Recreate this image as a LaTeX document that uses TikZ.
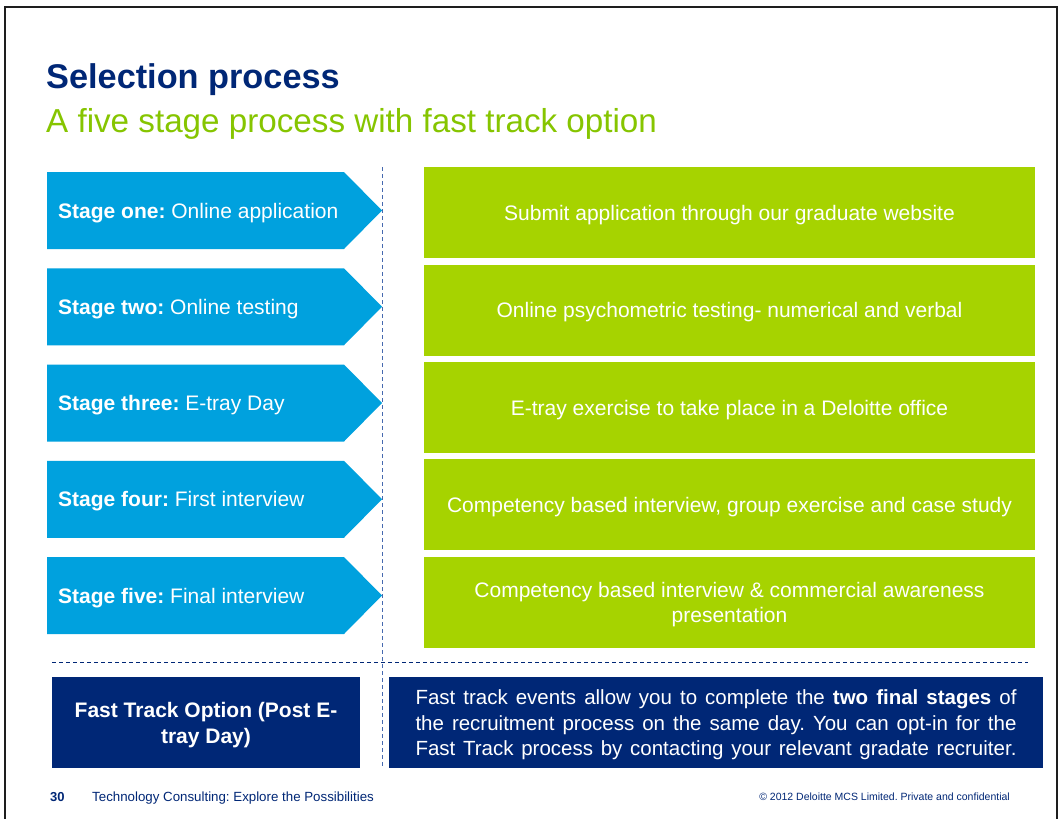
\documentclass[tikz,border=0pt]{standalone}
\usepackage{fontspec}
\setmainfont{Liberation Sans}
\definecolor{navy}{RGB}{0,39,118}
\definecolor{subgreen}{RGB}{134,197,0}
\definecolor{arrowblue}{RGB}{0,161,222}
\definecolor{boxgreen}{RGB}{166,211,0}
\definecolor{dashblue}{RGB}{70,105,175}
\definecolor{framegray}{RGB}{30,30,30}
\frenchspacing
\tikzset{
  framestyle/.style={draw=framegray,line width=2.2pt},
  stagearrow/.style={fill=arrowblue},
  stagetext/.style={anchor=base west,inner sep=0pt,text=white,font=\fontsize{21}{25}\selectfont},
  greenbox/.style={fill=boxgreen,minimum width=611pt,minimum height=91pt,inner sep=0pt},
  boxtext/.style={inner sep=0pt,text=white,align=center,font=\fontsize{21}{25.5}\selectfont},
  navybox/.style={fill=navy,minimum height=91pt,inner sep=0pt},
  vdash/.style={draw=dashblue,line width=0.9pt,dash pattern=on 4pt off 3pt},
  hdash/.style={draw=navy,line width=0.9pt,dash pattern=on 4pt off 3pt},
  foot/.style={anchor=base west,inner sep=0pt,text=navy}
}
\begin{document}
\begin{tikzpicture}[x=1pt,y=-1pt]
\useasboundingbox (0,0) rectangle (1060,819);
\fill[white] (0,0) rectangle (1060,819);
% frame
\coordinate (fbl) at (5,819);
\coordinate (ftl) at (5,7);
\coordinate (ftr) at (1057,7);
\coordinate (fbr) at (1057,819);
\draw[framestyle] (fbl) -- (ftl) -- (ftr) -- (fbr);
% titles
\node[anchor=base west,inner sep=0pt,text=navy,font=\fontsize{34.3}{40}\selectfont\bfseries] (title) at (46,88) {Selection process};
\node[anchor=base west,inner sep=0pt,text=subgreen,font=\fontsize{33.2}{40}\selectfont] (subtitle) at (46,132) {A five stage process with fast track option};
% stage arrows
\foreach \t in {172,268.25,364.5,460.75,557}{
  \fill[stagearrow] (47,\t) -- (344,\t) -- (382,\t+38.5) -- (344,\t+77) -- (47,\t+77) -- cycle;
}
\node[stagetext] (s1) at (58,218) {\textbf{Stage one:} Online application};
\node[stagetext] (s2) at (58,314.25) {\textbf{Stage two:} Online testing};
\node[stagetext] (s3) at (58,410.5) {\textbf{Stage three:} E-tray Day};
\node[stagetext] (s4) at (58,506.75) {\textbf{Stage four:} First interview};
\node[stagetext] (s5) at (58,603) {\textbf{Stage five:} Final interview};
% green boxes
\node[greenbox] (g1) at (729.5,212.5) {};
\node[greenbox] (g2) at (729.5,310) {};
\node[greenbox] (g3) at (729.5,407.5) {};
\node[greenbox] (g4) at (729.5,504.5) {};
\node[greenbox] (g5) at (729.5,602) {};
\node[boxtext] (t1) at ([yshift=-2.5pt]g1.center) {Submit application through our graduate website};
\node[boxtext] (t2) at ([yshift=-2.5pt]g2.center) {Online psychometric testing- numerical and verbal};
\node[boxtext] (t3) at ([yshift=-2.5pt]g3.center) {E-tray exercise to take place in a Deloitte office};
\node[boxtext] (t4) at ([yshift=-2.5pt]g4.center) {Competency based interview, group exercise and case study};
\node[boxtext] (t5) at ([yshift=-2.5pt]g5.center) {Competency based interview \& commercial awareness\\presentation};
% dashed lines
\coordinate (vtop) at (382,167);
\coordinate (vbot) at (382,767);
\draw[vdash] (vtop) -- (vbot);
\coordinate (hl) at (52,662.5);
\coordinate (hr) at (1028,662.5);
\draw[hdash] (hl) -- (hr);
% fast track boxes
\node[navybox,minimum width=308pt] (ft) at (206,722.5) {};
\node[navybox,minimum width=654pt] (ftd) at (716,722.5) {};
\node[boxtext,font=\fontsize{21}{26}\selectfont\bfseries] (ftt) at ([yshift=-3pt]ft.center) {Fast Track Option (Post E-\\tray Day)};
\node[boxtext,font=\fontsize{20.5}{25.5}\selectfont] (ftdt) at ([yshift=-2.5pt]ftd.center) {%
\makebox[601pt][s]{Fast track events allow you to complete the \textbf{two final stages} of}\\
\makebox[601pt][s]{the recruitment process on the same day. You can opt-in for the}\\
\makebox[601pt][s]{Fast Track process by contacting your relevant gradate recruiter.}};
% footer
\node[foot,font=\fontsize{13}{15}\selectfont\bfseries] (pg) at (50,801) {30};
\node[foot,font=\fontsize{13.3}{15}\selectfont] (fline) at (92,801) {Technology Consulting: Explore the Possibilities};
\node[anchor=base east,inner sep=0pt,text=navy,font=\fontsize{10.5}{12}\selectfont] (copy) at (1010,800) {\textcopyright{} 2012 Deloitte MCS Limited. Private and confidential};
\end{tikzpicture}
\end{document}
